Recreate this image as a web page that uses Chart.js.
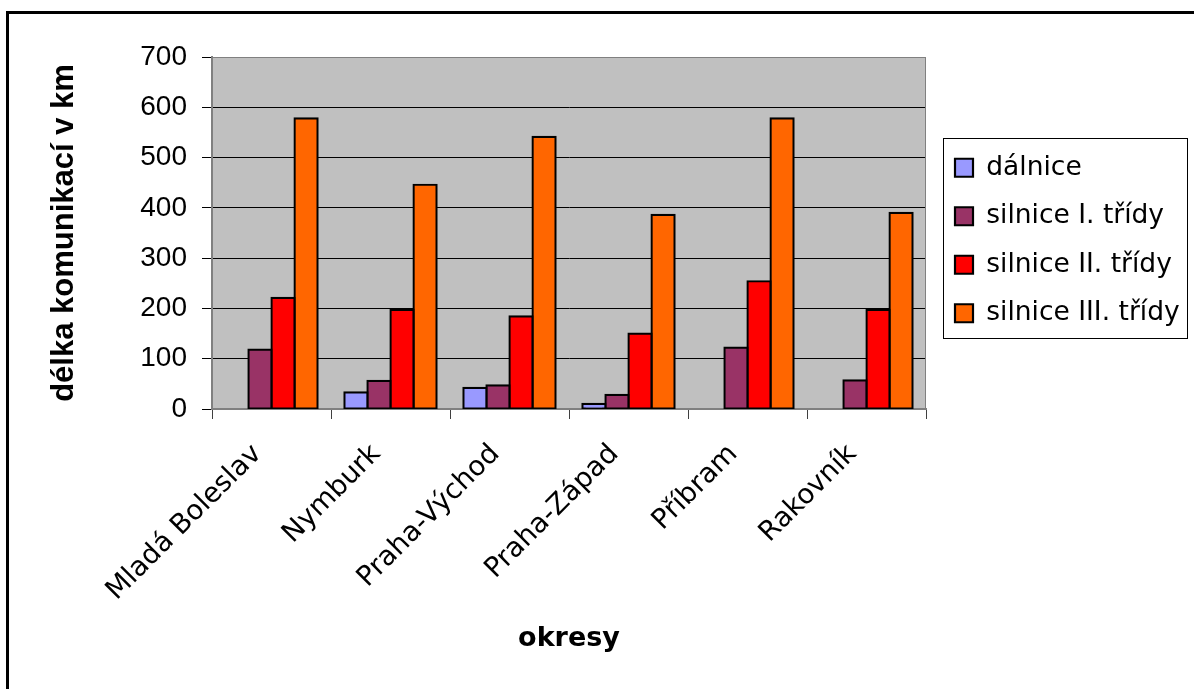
<!DOCTYPE html>
<html><head><meta charset="utf-8">
<script src="https://cdn.jsdelivr.net/npm/chart.js@4.4.1/dist/chart.umd.min.js"></script>
<style>
html,body{margin:0;padding:0;background:#fff;overflow:hidden;width:1194px;height:689px;}
#frame{position:absolute;left:6px;top:11px;width:1200px;height:700px;border-left:3px solid #000;border-top:3px solid #000;}
canvas{position:absolute;left:0;top:0;}
</style></head><body>
<div id="frame"></div>
<canvas id="c" width="1194" height="689"></canvas>
<script>
const categories = ['Mladá Boleslav', 'Nymburk', 'Praha-Východ', 'Praha-Západ', 'Příbram', 'Rakovník'];
const seriesNames = ['dálnice', 'silnice I. třídy', 'silnice II. třídy', 'silnice III. třídy'];
const dalnice    = [null, 33, 42, 10, null, null];
const silniceI   = [118, 56, 47, 28, 122, 57];
const silniceII  = [221, 197, 184, 150, 254, 197];
const silniceIII = [578, 446, 541, 386, 578, 390];
const yTicks = [0, 100, 200, 300, 400, 500, 600, 700];
const yTitle = 'délka komunikací v km';
const xTitle = 'okresy';

const seriesColors = ['#9999FF', '#993366', '#FF0000', '#FF6600'];
const seriesData = [dalnice, silniceI, silniceII, silniceIII];

const legendFont = 26.5, legendBox = 18, legendPad = 22;
const mc = document.createElement('canvas').getContext('2d');
mc.font = legendFont + 'px DejaVu Sans';
const tw = Math.max(...seriesNames.map(s => mc.measureText(s).width));
const legendW = legendPad + legendBox + legendFont / 2 + tw + 10;
const plotRight = 926;
const padRight = 1194 - plotRight - legendW;

const plotBg = {
  id: 'plotBg',
  beforeDraw(chart) {
    const {ctx, chartArea: a} = chart;
    ctx.save();
    ctx.fillStyle = '#C0C0C0';
    ctx.fillRect(a.left, a.top, a.right - a.left, a.bottom - a.top);
    ctx.restore();
  },
  beforeDatasetsDraw(chart) {
    const {ctx, chartArea: a} = chart;
    ctx.save();
    ctx.strokeStyle = '#808080';
    ctx.lineWidth = 1;
    ctx.beginPath();
    ctx.moveTo(a.left, a.top + 0.5);
    ctx.lineTo(a.right - 0.5, a.top + 0.5);
    ctx.lineTo(a.right - 0.5, a.bottom);
    ctx.stroke();
    ctx.restore();
  }
};

const legendPlace = {
  id: 'legendPlace',
  afterLayout(chart) {
    const lg = chart.legend;
    if (!lg) return;
    const dx = 955 - legendPad - lg.left, dy = 7.5;
    lg.left += dx; lg.right += dx;
    lg.top += dy; lg.bottom += dy;
  },
  afterDraw(chart) {
    const lg = chart.legend;
    if (!lg || !lg.legendHitBoxes || !lg.legendHitBoxes.length) return;
    const hb = lg.legendHitBoxes;
    const first = hb[0], last = hb[hb.length - 1];
    const left = first.left - 12;
    const top = first.top - 17;
    const right = Math.max(...hb.map(h => h.left + h.width)) + 7;
    const bottom = last.top + last.height + 10.5;
    const {ctx} = chart;
    ctx.save();
    ctx.strokeStyle = '#000';
    ctx.lineWidth = 1;
    ctx.strokeRect(Math.round(left) + 0.5, Math.round(top) + 0.5, Math.round(right - left), Math.round(bottom - top));
    ctx.restore();
  }
};

new Chart(document.getElementById('c'), {
  type: 'bar',
  data: {
    labels: categories,
    datasets: seriesData.map((d, i) => ({
      label: seriesNames[i],
      data: d,
      backgroundColor: seriesColors[i],
      borderColor: '#000',
      borderWidth: 2.2,
      borderSkipped: false,
      inflateAmount: 1.1,
      categoryPercentage: 0.775,
      barPercentage: 1
    }))
  },
  options: {
    responsive: false,
    animation: false,
    events: [],
    layout: { padding: { left: 38, top: 57, right: padRight, bottom: 30 } },
    plugins: {
      tooltip: { enabled: false },
      legend: {
        position: 'right',
        fullSize: false,
        labels: {
          boxWidth: legendBox,
          boxHeight: legendBox,
          padding: legendPad,
          color: '#000',
          font: { family: 'DejaVu Sans', size: legendFont }
        }
      }
    },
    scales: {
      x: {
        afterFit(s) { s.height = 250; },
        grid: { display: true, drawOnChartArea: false, offset: true, tickLength: 10, tickColor: '#404040' },
        border: { color: '#808080', width: 2 },
        ticks: {
          autoSkip: false, minRotation: 45, maxRotation: 45,
          labelOffset: -14, padding: 19, color: '#000',
          font: { family: 'DejaVu Sans', size: 27.5 }
        },
        title: {
          display: true, text: xTitle, color: '#000',
          padding: { top: 0, bottom: 4 },
          font: { family: 'DejaVu Sans', size: 27, weight: 'bold' }
        }
      },
      y: {
        min: 0, max: 700,
        afterFit(s) { s.width = 174; },
        afterBuildTicks(s) { s.ticks = yTicks.map(v => ({ value: v })); },
        grid: {
          color: c => (c.tick && (c.tick.value === 700 || c.tick.value === 0)) ? '#808080' : '#000',
          lineWidth: 1, tickLength: 10, tickColor: '#000'
        },
        border: { color: '#808080', width: 2 },
        ticks: {
          padding: 15, color: '#000',
          font: { family: 'Liberation Sans', size: 28 }
        },
        title: {
          display: true, text: yTitle, color: '#000',
          padding: { top: 8, bottom: 0 },
          font: { family: 'Liberation Sans', size: 31, weight: 'bold' }
        }
      }
    }
  },
  plugins: [plotBg, legendPlace]
});
</script>
</body></html>
